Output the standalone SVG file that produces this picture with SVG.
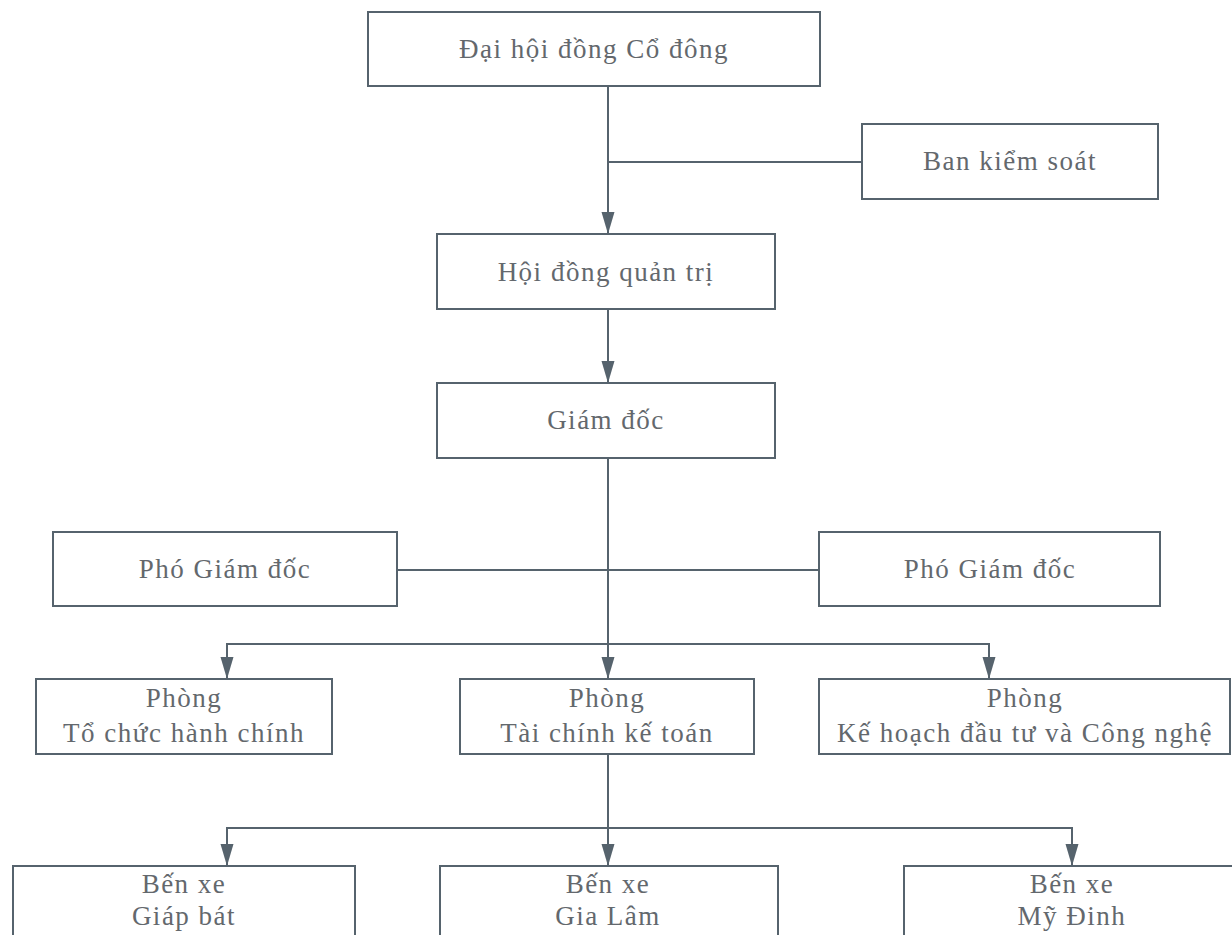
<svg xmlns="http://www.w3.org/2000/svg" width="1232" height="935" viewBox="0 0 1232 935">
<defs>
<style>
.box{fill:#ffffff;stroke:#56636d;stroke-width:2}
.t{font-family:"Liberation Serif","Times New Roman",serif;font-size:27px;letter-spacing:1.5px;fill:#63686d;text-anchor:middle}
.c{fill:none;stroke:#56636d;stroke-width:2}
</style>
<marker id="ah" markerUnits="userSpaceOnUse" markerWidth="24" markerHeight="14" refX="22" refY="6.5" orient="auto" viewBox="0 0 24 14">
<path d="M0,0 L22,6.5 L0,13 z" fill="#56636d"/>
</marker>
</defs>
<rect width="1232" height="935" fill="#ffffff"/>
<g id="connectors">
<path class="c" d="M608,86 V234" marker-end="url(#ah)"/>
<path class="c" d="M862,162 H608"/>
<path class="c" d="M608,309 V383" marker-end="url(#ah)"/>
<path class="c" d="M608,458 V679" marker-end="url(#ah)"/>
<path class="c" d="M397,570 H819"/>
<path class="c" d="M608,644 H227 V679" marker-end="url(#ah)"/>
<path class="c" d="M608,644 H989 V679" marker-end="url(#ah)"/>
<path class="c" d="M608,754 V866" marker-end="url(#ah)"/>
<path class="c" d="M608,828 H227 V866" marker-end="url(#ah)"/>
<path class="c" d="M608,828 H1072 V866" marker-end="url(#ah)"/>
</g>
<g id="dhdcd">
<rect class="box" x="368" y="12" width="452" height="74"/>
<text class="t" x="594" y="58">Đại hội đồng Cổ đông</text>
</g>
<g id="bks">
<rect class="box" x="862" y="124" width="296" height="75"/>
<text class="t" x="1010" y="170">Ban kiểm soát</text>
</g>
<g id="hdqt">
<rect class="box" x="437" y="234" width="338" height="75"/>
<text class="t" x="606" y="281">Hội đồng quản trị</text>
</g>
<g id="gd">
<rect class="box" x="437" y="383" width="338" height="75"/>
<text class="t" x="606" y="429">Giám đốc</text>
</g>
<g id="pgd1">
<rect class="box" x="53" y="532" width="344" height="74"/>
<text class="t" x="225" y="578">Phó Giám đốc</text>
</g>
<g id="pgd2">
<rect class="box" x="819" y="532" width="341" height="74"/>
<text class="t" x="990" y="578">Phó Giám đốc</text>
</g>
<g id="ptchc">
<rect class="box" x="36" y="679" width="296" height="75"/>
<text class="t" x="184" y="707">Phòng</text>
<text class="t" x="184" y="742">Tổ chức hành chính</text>
</g>
<g id="ptckt">
<rect class="box" x="460" y="679" width="294" height="75"/>
<text class="t" x="607" y="707">Phòng</text>
<text class="t" x="607" y="742">Tài chính kế toán</text>
</g>
<g id="pkhdt">
<rect class="box" x="819" y="679" width="411" height="75"/>
<text class="t" x="1025" y="707">Phòng</text>
<text class="t" x="1025" y="742">Kế hoạch đầu tư và Công nghệ</text>
</g>
<g id="bxgb">
<rect class="box" x="13" y="866" width="342" height="100"/>
<text class="t" x="184" y="893">Bến xe</text>
<text class="t" x="184" y="925">Giáp bát</text>
</g>
<g id="bxgl">
<rect class="box" x="440" y="866" width="338" height="100"/>
<text class="t" x="608" y="893">Bến xe</text>
<text class="t" x="608" y="925">Gia Lâm</text>
</g>
<g id="bxmd">
<rect class="box" x="904" y="866" width="340" height="100"/>
<text class="t" x="1072" y="893">Bến xe</text>
<text class="t" x="1072" y="925">Mỹ Đinh</text>
</g>
</svg>
